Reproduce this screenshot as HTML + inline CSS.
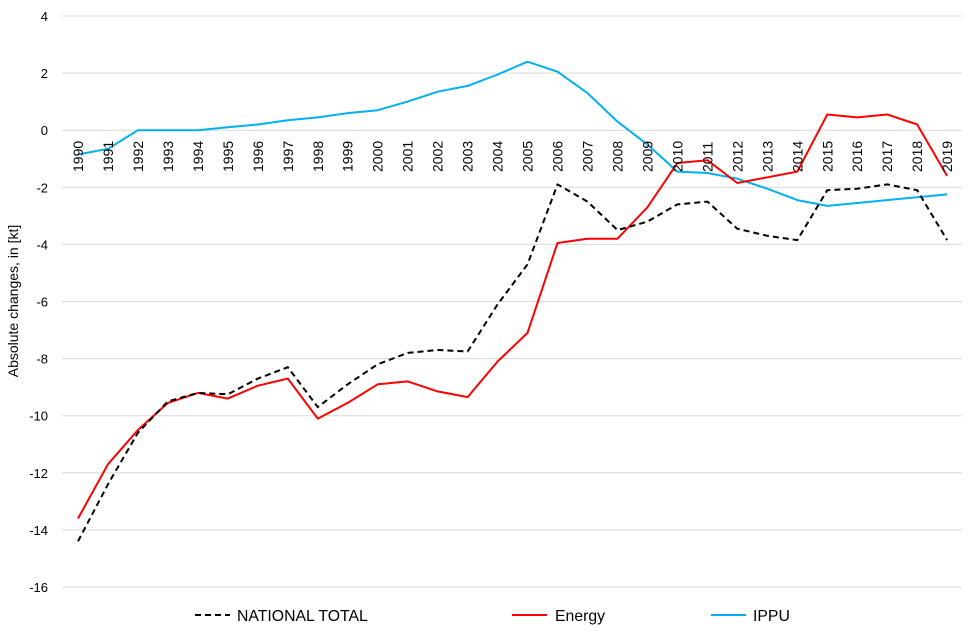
<!DOCTYPE html>
<html><head><meta charset="utf-8"><style>
body{margin:0;background:#fff;}
svg{display:block;font-family:"Liberation Sans",sans-serif;}
</style></head><body>
<svg id="c" width="977" height="631" xmlns="http://www.w3.org/2000/svg"></svg>
<script>
const nat=[-14.4,-12.4,-10.6,-9.5,-9.2,-9.25,-8.7,-8.3,-9.7,-8.9,-8.2,-7.8,-7.7,-7.75,-6.1,-4.7,-1.9,-2.5,-3.5,-3.2,-2.6,-2.5,-3.45,-3.7,-3.85,-2.1,-2.05,-1.9,-2.1,-3.85];
const en=[-13.6,-11.7,-10.5,-9.55,-9.2,-9.4,-8.95,-8.7,-10.1,-9.55,-8.9,-8.8,-9.15,-9.35,-8.1,-7.1,-3.95,-3.8,-3.8,-2.7,-1.15,-1.05,-1.85,-1.65,-1.45,0.55,0.45,0.55,0.2,-1.6];
const ip=[-0.85,-0.65,0,0,0,0.1,0.2,0.35,0.45,0.6,0.7,1.0,1.35,1.55,1.95,2.4,2.05,1.3,0.3,-0.5,-1.45,-1.5,-1.7,-2.05,-2.45,-2.65,-2.55,-2.45,-2.35,-2.25];
const Y=v=>130.2-v*28.55, X=i=>78+i*29.97;
let s='';
for(let v=4;v>=-16;v-=2){const y=Y(v).toFixed(1);
s+=`<line x1="62" x2="962" y1="${y}" y2="${y}" stroke="#d9d9d9" stroke-width="1"/>`;
s+=`<text x="48" y="${(+y+5)}" font-size="13" text-anchor="end" fill="#000">${v}</text>`;}
s+=`<text transform="translate(18,301) rotate(-90)" font-size="14" text-anchor="middle">Absolute changes, in [kt]</text>`;
const pl=(d,c,da)=>`<polyline fill="none" stroke="${c}" stroke-width="2" ${da?'stroke-dasharray="6,4"':''} stroke-linejoin="round" points="${d.map((v,i)=>X(i).toFixed(1)+','+Y(v).toFixed(1)).join(' ')}"/>`;
s+=pl(ip,'#00b0f0');s+=pl(en,'#ff0000');s+=pl(nat,'#000',1);
for(let i=0;i<30;i++){s+=`<text transform="translate(${X(i)+5},172) rotate(-90)" font-size="14">${1990+i}</text>`;}
s+=`<line x1="195" x2="230" y1="615" y2="615" stroke="#000" stroke-width="2" stroke-dasharray="6,4"/><text x="237" y="621" font-size="15.8">NATIONAL TOTAL</text>`;
s+=`<line x1="512" x2="547" y1="615" y2="615" stroke="#f00" stroke-width="2"/><text x="555" y="621" font-size="15.8">Energy</text>`;
s+=`<line x1="711" x2="746" y1="615" y2="615" stroke="#00b0f0" stroke-width="2"/><text x="753" y="621" font-size="15.8">IPPU</text>`;
document.getElementById('c').innerHTML=s;
</script>
</body></html>
